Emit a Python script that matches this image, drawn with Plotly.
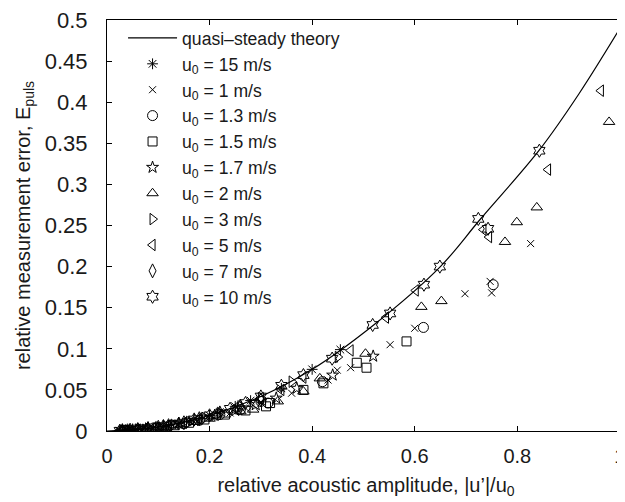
import plotly.graph_objects as go

# quasi-steady theory curve
theory_x = [0, 0.1, 0.2, 0.3, 0.4, 0.52, 0.65, 0.727, 0.842, 0.92, 1.01]
theory_y = [0, 0.0047, 0.019, 0.042, 0.075, 0.129, 0.2, 0.257, 0.341, 0.41, 0.5]

labels = ["u<sub>0</sub> = 15 m/s", "u<sub>0</sub> = 1 m/s", "u<sub>0</sub> = 1.3 m/s",
          "u<sub>0</sub> = 1.5 m/s", "u<sub>0</sub> = 1.7 m/s", "u<sub>0</sub> = 2 m/s",
          "u<sub>0</sub> = 3 m/s", "u<sub>0</sub> = 5 m/s", "u<sub>0</sub> = 7 m/s",
          "u<sub>0</sub> = 10 m/s"]

x_ticks = [0, 0.2, 0.4, 0.6, 0.8, 1]
x_ticktext = ["0", "0.2", "0.4", "0.6", "0.8", "1"]
y_ticks = [0, 0.05, 0.1, 0.15, 0.2, 0.25, 0.3, 0.35, 0.4, 0.45, 0.5]
y_ticktext = ["0", "0.05", "0.1", "0.15", "0.2", "0.25", "0.3", "0.35", "0.4", "0.45", "0.5"]

u15_x = [0.025, 0.03, 0.035, 0.04, 0.045, 0.05, 0.055, 0.06, 0.07, 0.08, 0.09, 0.10, 0.11, 0.12, 0.14, 0.16, 0.18, 0.2, 0.22, 0.25, 0.28, 0.34, 0.40, 0.455]
u15_y = [0.0003, 0.0004, 0.0006, 0.0008, 0.001, 0.0012, 0.0015, 0.0017, 0.0023, 0.003, 0.0038, 0.0047, 0.0057, 0.0068, 0.0093, 0.012, 0.015, 0.019, 0.023, 0.03, 0.037, 0.052, 0.075, 0.099]

u1_x = [0.826, 0.747, 0.75, 0.698, 0.6, 0.552, 0.475, 0.449, 0.431, 0.36, 0.3, 0.27, 0.24, 0.2, 0.17, 0.14, 0.12, 0.1, 0.08, 0.06, 0.04]
u1_y = [0.228, 0.182, 0.168, 0.167, 0.125, 0.105, 0.077, 0.074, 0.062, 0.046, 0.034, 0.028, 0.022, 0.016, 0.011, 0.008, 0.006, 0.004, 0.003, 0.0015, 0.0008]

u13_x = [0.753, 0.617, 0.42, 0.314, 0.3, 0.26, 0.22, 0.18, 0.15, 0.12, 0.09, 0.06, 0.035]
u13_y = [0.178, 0.126, 0.06, 0.034, 0.036, 0.026, 0.02, 0.013, 0.009, 0.006, 0.0035, 0.0015, 0.0006]

u15b_x = [0.584, 0.506, 0.487, 0.422, 0.383, 0.318, 0.31, 0.27, 0.23, 0.19, 0.16, 0.13, 0.1, 0.07, 0.04]
u15b_y = [0.109, 0.077, 0.083, 0.058, 0.05, 0.034, 0.03, 0.025, 0.02, 0.014, 0.01, 0.007, 0.004, 0.002, 0.0008]

u17_x = [0.519, 0.44, 0.37, 0.33, 0.29, 0.25, 0.21, 0.17, 0.14, 0.11, 0.08, 0.05, 0.03]
u17_y = [0.091, 0.068, 0.052, 0.04, 0.032, 0.025, 0.019, 0.013, 0.009, 0.0055, 0.003, 0.0012, 0.0005]

u2_x = [0.979, 0.838, 0.799, 0.776, 0.652, 0.613, 0.504, 0.415, 0.383, 0.333, 0.285, 0.26, 0.23, 0.2, 0.17, 0.13, 0.1, 0.07, 0.04]
u2_y = [0.376, 0.272, 0.254, 0.23, 0.158, 0.151, 0.094, 0.064, 0.048, 0.036, 0.026, 0.024, 0.02, 0.015, 0.011, 0.007, 0.0045, 0.002, 0.0008]

u3_x = [0.45, 0.36, 0.3, 0.26, 0.22, 0.19, 0.16, 0.13, 0.1, 0.08, 0.06, 0.04, 0.03]
u3_y = [0.09, 0.06, 0.04, 0.03, 0.022, 0.016, 0.011, 0.0075, 0.0045, 0.003, 0.0017, 0.0008, 0.0005]

u5_x = [0.963, 0.86, 0.745, 0.734, 0.602, 0.544, 0.475, 0.383, 0.34, 0.3, 0.25, 0.21, 0.18, 0.15, 0.12, 0.09, 0.06, 0.04, 0.025]
u5_y = [0.414, 0.318, 0.236, 0.245, 0.171, 0.138, 0.098, 0.065, 0.05, 0.04, 0.028, 0.02, 0.015, 0.01, 0.0065, 0.0038, 0.0017, 0.0008, 0.0003]

u7_x = [0.3, 0.26, 0.22, 0.18, 0.15, 0.12, 0.1, 0.08, 0.06, 0.045, 0.03]
u7_y = [0.038, 0.03, 0.022, 0.015, 0.01, 0.0065, 0.0045, 0.003, 0.0017, 0.001, 0.0005]

u10_x = [0.843, 0.743, 0.724, 0.649, 0.618, 0.552, 0.518, 0.439, 0.383, 0.34, 0.3, 0.27, 0.24, 0.2, 0.17, 0.14, 0.11, 0.08, 0.06, 0.04, 0.025]
u10_y = [0.341, 0.246, 0.258, 0.2, 0.178, 0.143, 0.129, 0.088, 0.068, 0.055, 0.042, 0.034, 0.027, 0.019, 0.014, 0.009, 0.006, 0.003, 0.0018, 0.0008, 0.0003]

series_x = [u15_x, u1_x, u13_x, u15b_x, u17_x, u2_x, u3_x, u5_x, u7_x, u10_x]
series_y = [u15_y, u1_y, u13_y, u15b_y, u17_y, u2_y, u3_y, u5_y, u7_y, u10_y]
symbols = ["asterisk-open", "x-thin-open", "circle-open", "square-open", "star-open",
           "triangle-up-open", "triangle-right-open", "triangle-left-open",
           "diamond-tall-open", "hexagram-open"]
sizes = [9, 7, 10, 9, 9, 10, 10, 10, 10, 10]

FONT = "Liberation Sans, Arial, sans-serif"
TXT = "#1a1a1a"

fig = go.Figure()
fig.add_trace(go.Scatter(x=theory_x, y=theory_y, mode="lines", line_shape="spline",
                         line=dict(color="black", width=1.2),
                         name="quasi\u2013steady theory", legendgroup="t"))
for i in range(len(labels)):
    fig.add_trace(go.Scatter(x=series_x[i], y=series_y[i], mode="markers",
                             name=labels[i], legendgroup="g%d" % i,
                             marker=dict(symbol=symbols[i], size=sizes[i], color="black",
                                         line=dict(width=1, color="black"))))

axis_common = dict(showline=True, linecolor="black", linewidth=1, mirror="ticks",
                   ticks="inside", ticklen=5, tickcolor="black", tickwidth=1, showgrid=False,
                   zeroline=False, automargin=False, ticklabeloverflow="allow")

# the page body adds an 8px offset; figure is sized so the plot lands where the reference has it
fig.update_layout(
    template="none",
    width=617, height=494, autosize=False,
    margin=dict(l=99, r=0, t=12, b=71, pad=0),
    paper_bgcolor="white", plot_bgcolor="white",
    font=dict(family=FONT, size=20, color=TXT),
    xaxis=dict(range=[0, 1.01], tickvals=x_ticks, ticktext=x_ticktext,
               tickfont=dict(family=FONT, size=20, color=TXT),
               title=dict(text="relative acoustic amplitude, |u\u2019|/u<sub>0</sub>",
                          font=dict(family=FONT, size=20, color=TXT), standoff=11),
               ticklabelstandoff=7, **axis_common),
    yaxis=dict(range=[0, 0.5], tickvals=y_ticks, ticktext=y_ticktext,
               tickfont=dict(family=FONT, size=22, color=TXT),
               title=dict(text="relative measurement error, E<sub>puls</sub>",
                          font=dict(family=FONT, size=20, color=TXT), standoff=8),
               ticklabelstandoff=14, **axis_common),
    legend=dict(x=0.031, y=1.0, xanchor="left", yanchor="top", bgcolor="rgba(0,0,0,0)",
                borderwidth=0, maxheight=1,
                font=dict(family=FONT, size=17.6, color=TXT), itemwidth=49, tracegroupgap=0,
                traceorder="normal"),
    showlegend=True,
)

fig.write_html("out.html")
